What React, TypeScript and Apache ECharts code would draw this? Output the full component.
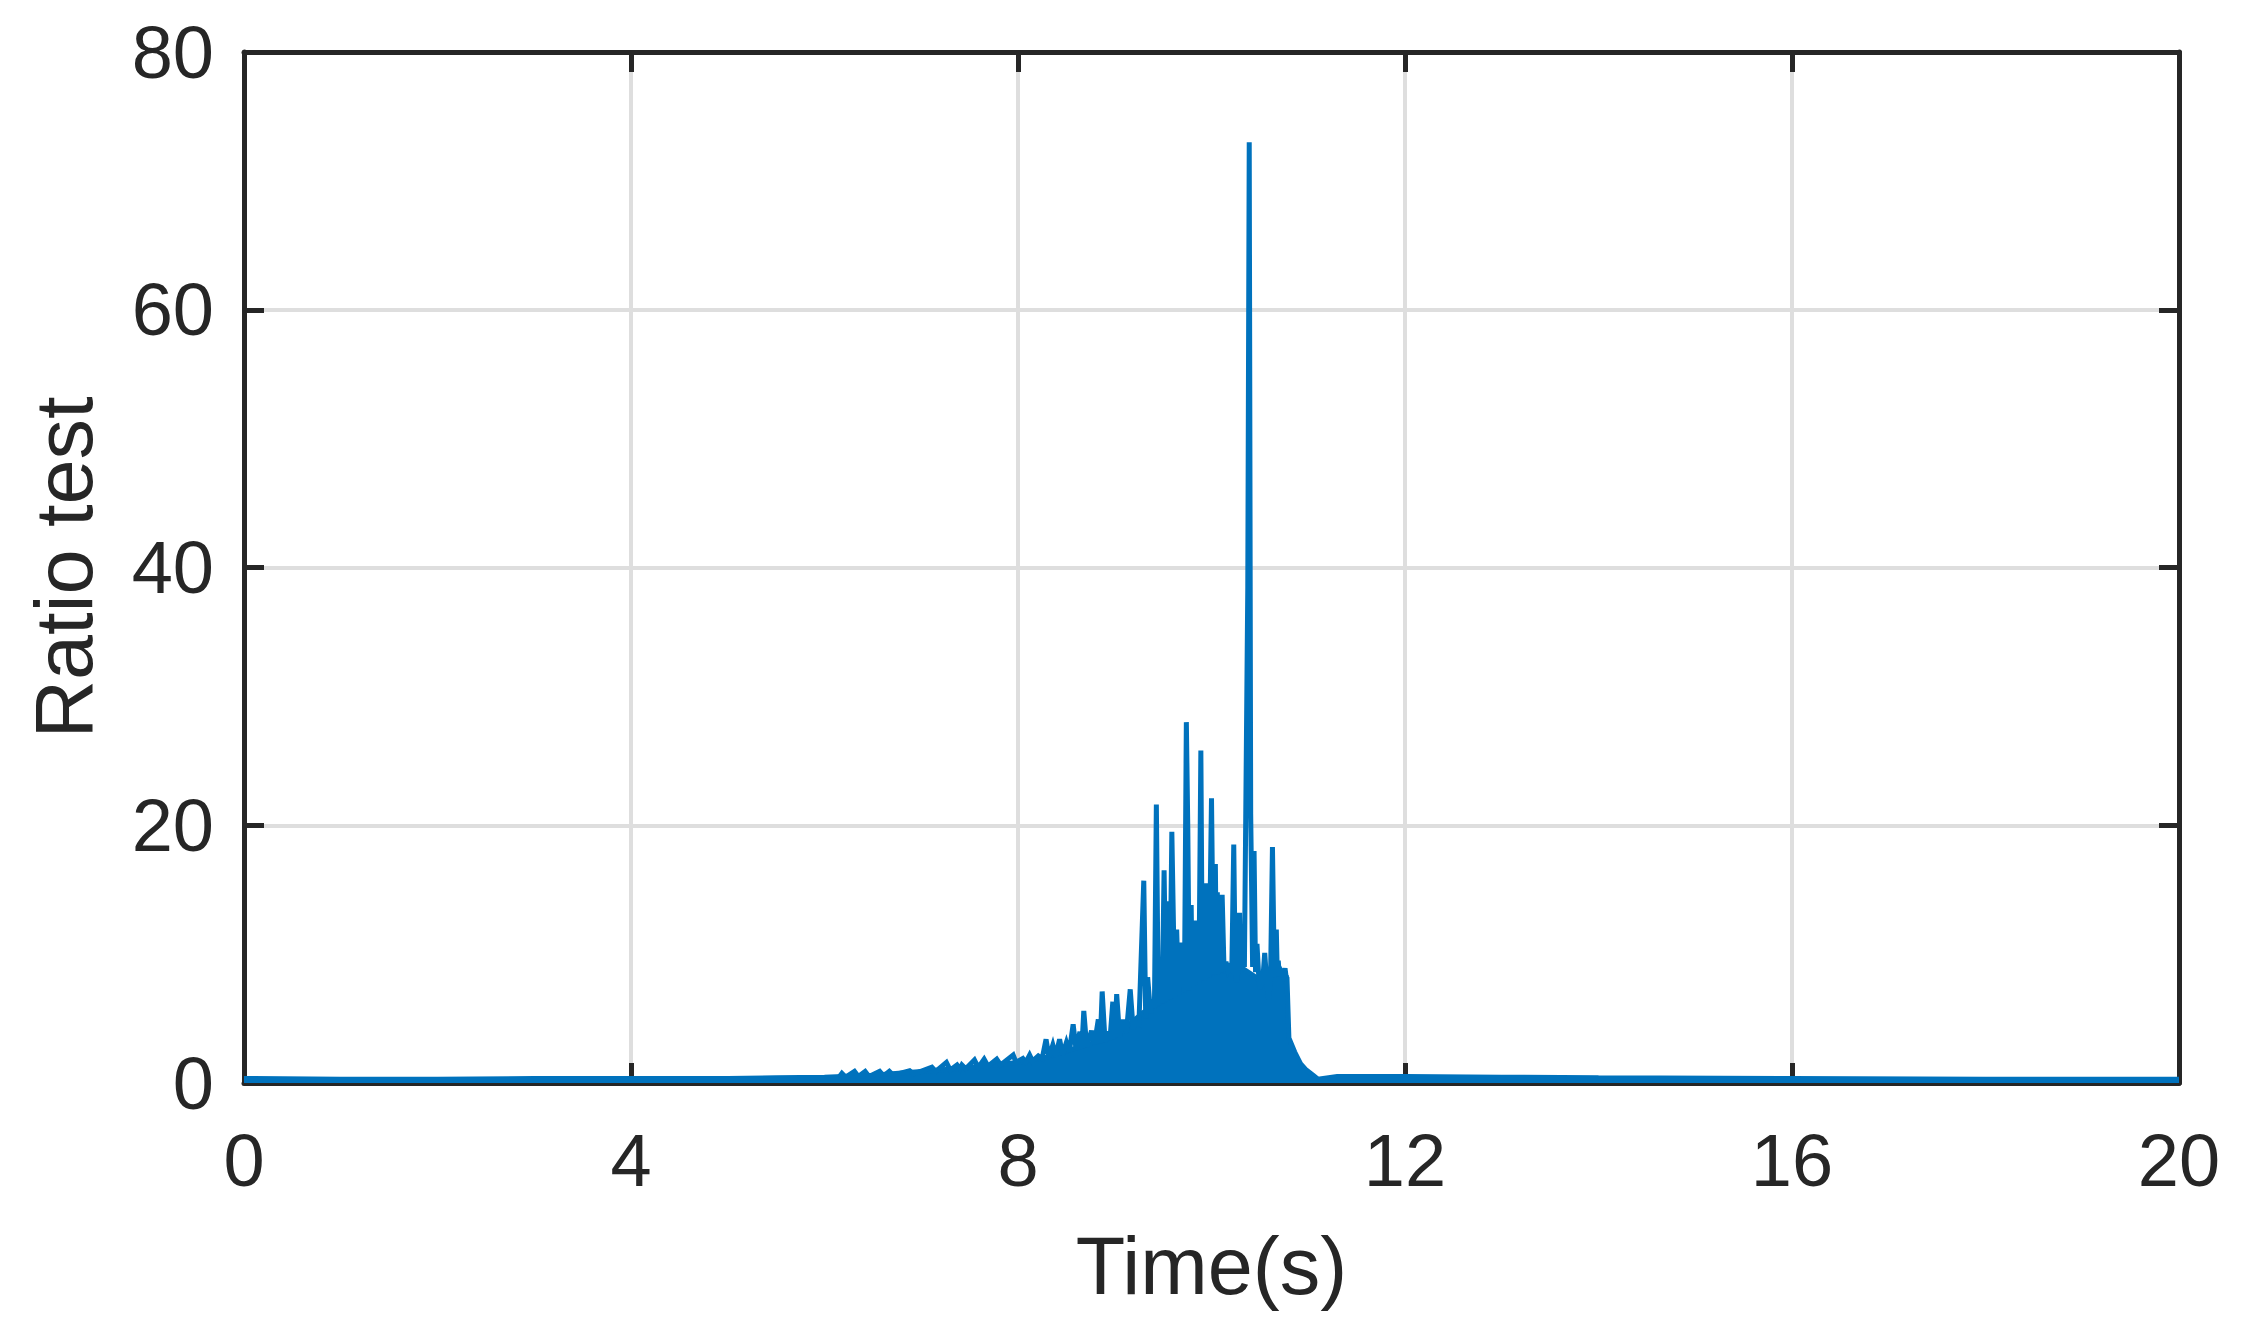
import React, { useEffect, useRef } from "react";
import * as echarts from "echarts";

const X_TICKS = [0, 4, 8, 12, 16, 20];
const Y_TICKS = [0, 20, 40, 60, 80];

// slow-varying level of the dense oscillation (what looks like a filled band)
const BAND_T = [0, 1, 2, 3, 4, 5, 5.5, 6.0, 6.5, 7.0, 7.5, 8.0, 8.3, 8.6, 9.0, 9.3, 9.6, 9.8, 10.0, 10.3, 10.5, 10.7, 10.78, 10.8, 10.86, 10.92, 10.98, 11.05, 11.1, 11.3, 12, 13, 14, 16, 18, 20];
const BAND_V = [0.35, 0.3, 0.3, 0.35, 0.35, 0.35, 0.4, 0.45, 0.6, 0.9, 1.2, 1.6, 2.0, 2.7, 3.6, 5.5, 6.8, 8.0, 8.5, 9.0, 8.0, 8.5, 8.2, 3.5, 2.4, 1.5, 1.0, 0.6, 0.3, 0.5, 0.5, 0.45, 0.4, 0.35, 0.3, 0.3];

// individual spikes, trough / peak alternating
const SPIKE_T = [
  6.15, 6.18, 6.22, 6.31, 6.35, 6.42, 6.46, 6.57, 6.61, 6.67, 6.71, 6.88, 6.92, 7.11, 7.15, 7.26, 7.3, 7.37, 7.4, 7.42,
  7.46, 7.55, 7.59, 7.65, 7.69, 7.78, 7.82, 7.95, 7.98, 8.05, 8.08, 8.12, 8.15, 8.21, 8.25, 8.29, 8.32, 8.36, 8.39, 8.43,
  8.46, 8.5, 8.53, 8.57, 8.6, 8.64, 8.66, 8.68, 8.71, 8.76, 8.79, 8.83, 8.85, 8.87, 8.9, 8.93, 8.95, 8.98, 9.0, 9.02,
  9.05, 9.09, 9.12, 9.16, 9.19, 9.21, 9.25, 9.3, 9.32, 9.34, 9.37, 9.4, 9.41, 9.43, 9.45, 9.47, 9.49, 9.51, 9.53, 9.55,
  9.57, 9.59, 9.62, 9.64, 9.66, 9.69, 9.72, 9.74, 9.755, 9.77, 9.79, 9.8, 9.81, 9.825, 9.84, 9.87, 9.89, 9.905, 9.92, 9.935,
  9.95, 9.975, 10.0, 10.02, 10.04, 10.05, 10.06, 10.07, 10.08, 10.095, 10.11, 10.13, 10.15, 10.17, 10.19, 10.21, 10.23, 10.245, 10.26, 10.275,
  10.29, 10.3, 10.31, 10.34, 10.375, 10.39, 10.405, 10.425, 10.44, 10.455, 10.47, 10.49, 10.5, 10.53, 10.55, 10.57, 10.59, 10.61, 10.63, 10.65,
  10.67, 10.68, 10.69, 10.7, 10.71, 10.74, 10.76, 10.77, 10.78,
];
const SPIKE_V = [
  0.45, 0.75, 0.45, 0.9, 0.5, 0.9, 0.5, 0.9, 0.55, 0.9, 0.6, 0.95, 0.7, 1.22, 0.9, 1.6, 1.0, 1.4, 1.1, 1.4,
  1.1, 1.78, 1.2, 1.85, 1.3, 1.85, 1.4, 2.17, 1.6, 1.9, 1.6, 2.17, 1.7, 2.1, 1.9, 3.39, 2.0, 2.95, 2.1, 3.39,
  2.2, 3.15, 2.4, 4.55, 2.6, 3.98, 2.7, 5.6, 2.8, 4.05, 3.0, 4.94, 3.1, 7.1, 3.2, 4.0, 3.3, 6.3, 3.5, 6.9,
  3.6, 4.9, 3.9, 7.27, 4.2, 4.8, 4.6, 15.7, 5.0, 8.2, 5.4, 6.5, 5.8, 21.6, 6.0, 8.9, 6.2, 16.5, 6.3, 14.1,
  6.5, 19.5, 6.6, 11.9, 6.8, 10.9, 7.0, 28.0, 19.8, 7.2, 13.8, 7.5, 9.9, 7.6, 12.6, 7.8, 25.8, 8.0, 8.9, 8.0,
  15.5, 8.2, 22.1, 8.4, 17.0, 8.5, 14.8, 8.5, 11.7, 8.6, 14.6, 8.7, 9.4, 8.7, 9.0, 8.8, 18.5, 8.8, 7.8, 8.8,
  13.2, 8.9, 12.2, 9.0, 38.5, 73.0, 20.9, 9.0, 18.0, 8.6, 10.8, 8.0, 7.3, 8.0, 10.1, 7.9, 6.5, 8.0, 18.3, 8.2,
  11.9, 8.3, 9.5, 8.4, 8.8, 8.3, 8.9, 8.3, 8.2,
];

const BLUE = "#0072BD";
const INK = "#262626";
const FONT = "Liberation Sans";

export default function App() {
  const ref = useRef<HTMLDivElement | null>(null);

  useEffect(() => {
    if (!ref.current) return;
    const chart = echarts.init(ref.current, undefined, { renderer: "svg" });

    const tickStyle = { show: true, inside: true, length: 20, lineStyle: { color: INK, width: 5 } };
    const lineStyle = { show: true, onZero: false, lineStyle: { color: INK, width: 5 } };
    const split = { show: true, lineStyle: { color: "#dedede", width: 4 } };
    const labelStyle = { color: INK, fontSize: 74, fontFamily: FONT };

    chart.setOption({
      animation: false,
      grid: { left: 244, right: 74, top: 52, bottom: 259, containLabel: false },
      xAxis: [
        {
          type: "value",
          min: X_TICKS[0],
          max: X_TICKS[X_TICKS.length - 1],
          interval: 4,
          axisLine: lineStyle,
          axisTick: tickStyle,
          splitLine: split,
          axisLabel: { ...labelStyle, margin: 40 },
          name: "Time(s)",
          nameLocation: "middle",
          nameGap: 142,
          nameTextStyle: { color: INK, fontSize: 81, fontFamily: FONT },
        },
        {
          type: "value",
          position: "top",
          min: 0,
          max: 20,
          interval: 4,
          axisLine: lineStyle,
          axisTick: tickStyle,
          splitLine: { show: false },
          axisLabel: { show: false },
        },
      ],
      yAxis: [
        {
          type: "value",
          min: Y_TICKS[0],
          max: Y_TICKS[Y_TICKS.length - 1],
          interval: 20,
          axisLine: lineStyle,
          axisTick: tickStyle,
          splitLine: split,
          axisLabel: { ...labelStyle, margin: 30 },
          name: "Ratio test",
          nameLocation: "middle",
          nameGap: 140,
          nameTextStyle: { color: INK, fontSize: 81, fontFamily: FONT },
        },
        {
          type: "value",
          position: "right",
          min: 0,
          max: 80,
          interval: 20,
          axisLine: lineStyle,
          axisTick: tickStyle,
          splitLine: { show: false },
          axisLabel: { show: false },
        },
      ],
      series: [
        {
          name: "band",
          type: "line",
          showSymbol: false,
          symbol: "none",
          data: BAND_T.map((t, i) => [t, BAND_V[i]]),
          lineStyle: { color: BLUE, width: 5 },
          areaStyle: { color: BLUE, opacity: 1 },
          z: 3,
        },
        {
          name: "ratio",
          type: "line",
          showSymbol: false,
          symbol: "none",
          data: SPIKE_T.map((t, i) => [t, SPIKE_V[i]]),
          lineStyle: { color: BLUE, width: 5, join: "miter", cap: "butt" },
          z: 4,
        },
      ],
    });

    return () => chart.dispose();
  }, []);

  return (
    <div
      ref={ref}
      style={{ position: "absolute", left: 0, top: 0, width: 2253, height: 1342, background: "#fff" }}
    />
  );
}
